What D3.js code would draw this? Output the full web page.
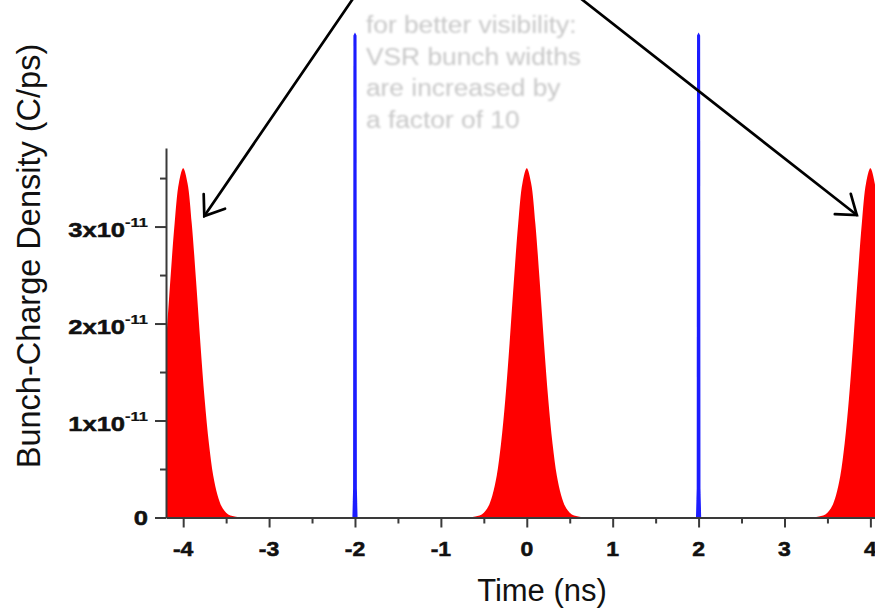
<!DOCTYPE html>
<html>
<head>
<meta charset="utf-8">
<script src="https://cdn.jsdelivr.net/npm/d3@7"></script>
<style>
  html, body { margin: 0; padding: 0; background: #fff; }
  svg { display: block; }
  text { font-family: "Liberation Sans", Arial, Helvetica, sans-serif; }
</style>
</head>
<body>
<script>
// Bunch centres (ns)
const ringBunchCentres = [-4, 0, 4];
const vsrBunchCentres = [-2, 2];

// Ring bunch longitudinal profile: time offset from centre (ns) -> density (1e-11 C/ps)
const ringOffsets = [-0.65, -0.6, -0.55, -0.5, -0.45, -0.4, -0.35, -0.3, -0.25, -0.2, -0.15, -0.1, -0.05, 0,
                     0.05, 0.1, 0.15, 0.2, 0.25, 0.3, 0.35, 0.4, 0.45, 0.5, 0.55, 0.6, 0.65];
const ringDensity = [0.00, 0.01, 0.02, 0.05, 0.11, 0.23, 0.43, 0.76, 1.22, 1.80, 2.44, 3.03, 3.45, 3.60,
                     3.45, 3.03, 2.44, 1.80, 1.22, 0.76, 0.43, 0.23, 0.11, 0.05, 0.02, 0.01, 0.00];

// VSR short bunch profile (width shown x10)
const vsrOffsets = [-0.03, -0.022, -0.018, 0, 0.018, 0.022, 0.03];
const vsrDensity = [0.0, 0.3, 4.97, 5.0, 4.97, 0.3, 0.0];

// Axes
const xMajorTicks = [-4, -3, -2, -1, 0, 1, 2, 3, 4];
const xMinorTicks = [-3.5, -2.5, -1.5, -0.5, 0.5, 1.5, 2.5, 3.5, 4.5];
const xTickLabels = ["-4", "-3", "-2", "-1", "0", "1", "2", "3", "4"];
const yMajorTicks = [0, 1, 2, 3];
const yMinorTicks = [0.5, 1.5, 2.5, 3.5];
const yTickMantissa = ["0", "1x10", "2x10", "3x10"];
const yTickExponent = ["", "-11", "-11", "-11"];

// Annotations
const noteLines = ["for better visibility:", "VSR bunch widths", "are increased by", "a factor of 10"];
const arrowTails = [[-1.83, 5.6], [0.27, 5.6]];
const arrowTips = [[-3.754, 3.108], [3.842, 3.119]];

const W = 875, H = 613;
const svg = d3.select("body").append("svg").attr("width", W).attr("height", H);

const x = d3.scaleLinear().domain([-4.2, 4.6]).range([166, 166 + 8.8 * 85.9]);
const y = d3.scaleLinear().domain([0, 3.81]).range([517.5, 148]);

const defs = svg.append("defs");
defs.append("clipPath").attr("id", "plotClip")
  .append("rect").attr("x", x(-4.2)).attr("y", 0).attr("width", W).attr("height", y(0));
defs.append("filter").attr("id", "soft").attr("x", "-10%").attr("y", "-10%").attr("width", "120%").attr("height", "120%")
  .append("feGaussianBlur").attr("stdDeviation", 0.8);
defs.append("filter").attr("id", "softer").attr("x", "-50%").attr("y", "-5%").attr("width", "200%").attr("height", "110%")
  .append("feGaussianBlur").attr("stdDeviation", 0.45);

const area = d3.area()
  .x(d => x(d[0]))
  .y0(y(0))
  .y1(d => y(d[1]))
  .curve(d3.curveCatmullRom);

const plot = svg.append("g").attr("clip-path", "url(#plotClip)");

// ring bunches
plot.selectAll("path.ring")
  .data(ringBunchCentres)
  .join("path")
  .attr("class", "ring")
  .attr("fill", "#ff0000")
  .attr("d", c => area(ringOffsets.map((o, i) => [c + o, ringDensity[i]])));

// VSR bunches
plot.selectAll("path.vsr")
  .data(vsrBunchCentres)
  .join("path")
  .attr("class", "vsr")
  .attr("fill", "#1a1aff")
  .attr("filter", "url(#softer)")
  .attr("d", c => d3.area().x(d => x(d[0])).y0(y(0)).y1(d => y(d[1]))
    (vsrOffsets.map((o, i) => [c + o, vsrDensity[i]])));

// X axis
const axisColor = "#3a3a3a";
const xAxisG = svg.append("g").attr("transform", `translate(0,${y(0)})`);
xAxisG.call(d3.axisBottom(x).tickValues(xMajorTicks).tickSize(10).tickSizeOuter(0).tickFormat(""));
const xMinorG = svg.append("g").attr("transform", `translate(0,${y(0)})`);
xMinorG.call(d3.axisBottom(x).tickValues(xMinorTicks).tickSize(6).tickSizeOuter(0).tickFormat(""));
xMinorG.select(".domain").remove();

// Y axis
const yAxisG = svg.append("g").attr("transform", `translate(${x(-4.2)},0)`);
yAxisG.call(d3.axisLeft(y).tickValues(yMajorTicks).tickSize(11).tickSizeOuter(0).tickFormat(""));
const yMinorG = svg.append("g").attr("transform", `translate(${x(-4.2)},0)`);
yMinorG.call(d3.axisLeft(y).tickValues(yMinorTicks).tickSize(6).tickSizeOuter(0).tickFormat(""));
yMinorG.select(".domain").remove();

svg.selectAll(".domain").attr("stroke", axisColor).attr("stroke-width", 2);
svg.selectAll(".tick line").attr("stroke", axisColor).attr("stroke-width", 2);

// X tick labels
svg.append("g").selectAll("text")
  .data(xMajorTicks)
  .join("text")
  .attr("transform", d => `translate(${x(d)},556) scale(1.18,1)`)
  .attr("text-anchor", "middle")
  .attr("font-size", 19.5)
  .attr("font-weight", "bold")
  .attr("stroke", "#111")
  .attr("stroke-width", 0.5)
  .attr("fill", "#111")
  .text((d, i) => xTickLabels[i]);

// Y tick labels with exponent
const yLab = svg.append("g").selectAll("text")
  .data(yMajorTicks)
  .join("text")
  .attr("transform", (d, i) => `translate(148,${y(d) + (i === 0 ? 7 : 10.5)}) scale(1.22,1)`)
  .attr("text-anchor", "end")
  .attr("font-size", 21)
  .attr("font-weight", "bold")
  .attr("stroke", "#111")
  .attr("stroke-width", 0.5)
  .attr("fill", "#111");
yLab.append("tspan").text((d, i) => yTickMantissa[i]);
yLab.append("tspan")
  .attr("font-size", 13.5)
  .attr("stroke-width", 0.25)
  .attr("dy", (d, i) => yTickExponent[i] ? -10.5 : 0)
  .text((d, i) => yTickExponent[i]);

// Axis titles
svg.append("text")
  .attr("transform", "translate(40,256) rotate(-90)")
  .attr("text-anchor", "middle")
  .attr("font-size", 32.5)
  .attr("fill", "#111")
  .text("Bunch-Charge Density (C/ps)");

svg.append("text")
  .attr("x", 542).attr("y", 601)
  .attr("text-anchor", "middle")
  .attr("font-size", 31)
  .attr("fill", "#111")
  .text("Time (ns)");

// Note about VSR bunch widths
svg.append("g").attr("filter", "url(#soft)")
  .selectAll("text")
  .data(noteLines)
  .join("text")
  .attr("transform", (d, i) => `translate(${x(-2) + 11},${33 + i * 31.7}) scale(1.12,1)`)
  .attr("font-size", 23.5)
  .attr("fill", "#c8c8c8")
  .text(d => d);

// Arrows pointing to ring bunches
const arrows = svg.append("g").attr("stroke", "#000").attr("stroke-width", 2.7).attr("fill", "none")
  .attr("stroke-linecap", "round");
arrowTips.forEach((tip, i) => {
  const tx = x(tip[0]), ty = y(tip[1]);
  const sx = x(arrowTails[i][0]), sy = y(arrowTails[i][1]);
  arrows.append("line").attr("x1", sx).attr("y1", sy).attr("x2", tx).attr("y2", ty);
  const ang = Math.atan2(sy - ty, sx - tx);
  const len = 22, spread = 36 * Math.PI / 180;
  const p = d3.path();
  p.moveTo(tx + len * Math.cos(ang + spread), ty + len * Math.sin(ang + spread));
  p.lineTo(tx, ty);
  p.lineTo(tx + len * Math.cos(ang - spread), ty + len * Math.sin(ang - spread));
  arrows.append("path").attr("d", p.toString()).attr("stroke-linejoin", "miter");
});
</script>
</body>
</html>
